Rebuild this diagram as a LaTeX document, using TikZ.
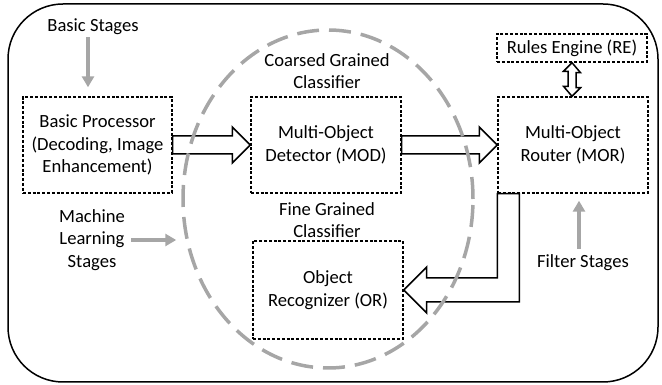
\documentclass[tikz,border=0pt]{standalone}
\usepackage{fontspec}
\setmainfont{Carlito}
\usepackage{tikz}
\usetikzlibrary{shapes, arrows.meta, calc}
\definecolor{stagegray}{HTML}{A6A6A6}
\tikzset{
  classifier/.style={
    ellipse,
    draw=stagegray,
    line width=3.5pt,
    dash pattern=on 22pt off 10pt,
    inner sep=0pt
  },
  hollow/.style={
    draw=black,
    fill=white,
    line width=1.5pt,
    line join=miter
  },
}
\tikzstyle{block} = [rectangle, draw=black, line width=1.4pt, dash pattern=on 3pt off 1.8pt, align=center, inner sep=0pt]
\tikzstyle{caption} = [align=center, inner sep=0pt]
\tikzstyle{stagearrow} = [draw=stagegray, line width=4pt, -{Triangle[length=11pt, width=12pt]}]

\begin{document}
\begin{tikzpicture}[x=1pt, y=1pt, font=\fontsize{18.6}{22.5}\selectfont]
	\useasboundingbox (0,0) rectangle (662,385);
	\draw [line width=1.5pt, rounded corners=55pt] (8,3) rectangle (658,381);

	% blocks
	\node [block, minimum width=149pt, minimum height=96pt] (bp) at (97.5,240) {Basic Processor\\(Decoding, Image\\Enhancement)};
	\node [block, minimum width=150pt, minimum height=96pt] (mod) at (326,240) {Multi-Object\\Detector (MOD)};
	\node [block, minimum width=150pt, minimum height=96pt] (mor) at (573,240) {Multi-Object\\Router (MOR)};
	\node [block, minimum width=150pt, minimum height=28pt] (re) at (572,337) {Rules Engine (RE)};
	\node [block, minimum width=150pt, minimum height=98pt] (or) at (328,95) {Object\\Recognizer (OR)};

	% captions
	\node [caption] (basic) at (93,358) {Basic Stages};
	\node [caption] (coarse) at (327,314) {Coarsed Grained\\Classifier};
	\node [caption] (fine) at (327,165) {Fine Grained\\Classifier};
	\node [caption] (ml) at (92,145) {Machine\\Learning\\Stages};
	\node [caption] (filter) at (583,122) {Filter Stages};

	% block arrows
	\draw [hollow] ([yshift=9pt]bp.east) -- ([xshift=-18pt,yshift=9pt]mod.west) -- ([xshift=-18pt,yshift=18pt]mod.west) -- (mod.west) -- ([xshift=-18pt,yshift=-18pt]mod.west) -- ([xshift=-18pt,yshift=-9pt]mod.west) -- ([yshift=-9pt]bp.east) -- cycle;
	\draw [hollow] ([yshift=9pt]mod.east) -- ([xshift=-18pt,yshift=9pt]mor.west) -- ([xshift=-18pt,yshift=18pt]mor.west) -- (mor.west) -- ([xshift=-18pt,yshift=-18pt]mor.west) -- ([xshift=-18pt,yshift=-9pt]mor.west) -- ([yshift=-9pt]mod.east) -- cycle;
	\draw [hollow] (re.south) -- ++(8.5,-10) -- ++(-4.5,0) -- ++(0,-15) -- ++(4.5,0) -- (re.south |- mor.north) -- ++(-8.5,10) -- ++(4.5,0) -- ++(0,15) -- ++(-4.5,0) -- cycle;
	\draw [hollow] (mor.south west) -- ([xshift=22pt]mor.south west) |- ([xshift=23pt,yshift=-12pt]or.east) -- ++(0,-11) -- (or.east) -- ++(23,23) -- ++(0,-11) -| (mor.south west) -- cycle;

	% classifier region
	\node [classifier, minimum width=290pt, minimum height=338pt] (clf) at (328,186) {};

	% stage arrows
	\draw [stagearrow] ($(basic.south)+(-5,-2)$) -- ($(basic.south |- bp.north)+(-5,9)$);
	\draw [stagearrow] ($(ml.east)+(6,0)$) -- ($(ml.east -| clf.west)+(-5,0)$);
	\draw [stagearrow] ($(filter.north)+(-4,6)$) -- ($(filter.north |- mor.south)+(-4,-7)$);
\end{tikzpicture}
\end{document}
